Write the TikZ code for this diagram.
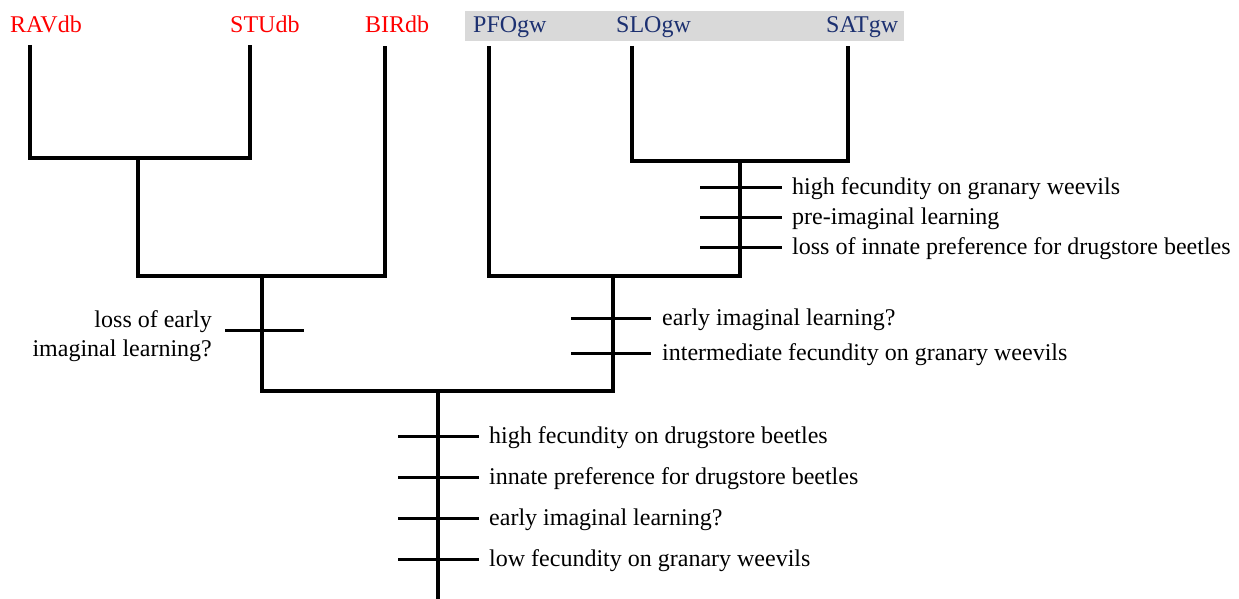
\documentclass[tikz,border=0pt]{standalone}
\usepackage{fontspec}
\setmainfont{Liberation Serif}
\definecolor{navy}{RGB}{28,48,112}
\definecolor{bandgray}{RGB}{217,217,217}
\definecolor{leafred}{RGB}{255,0,0}
\begin{document}
\begin{tikzpicture}[x=1pt,y=-1pt,
  branch/.style={line width=4pt, line join=miter},
  tickmark/.style={line width=3pt},
  lab/.style={font=\fontsize{24}{29}\selectfont, inner sep=0pt, anchor=base west},
  redleaf/.style={lab, text=leafred},
  blueleaf/.style={lab, text=navy}]
\useasboundingbox (0,0) rectangle (1239,599);
% grey band behind the gw taxa
\fill[bandgray] (465,11) rectangle (904,41);
% leaf labels
\node[redleaf] (rav) at (10,33) {RAVdb};
\node[redleaf] (stu) at (230,33) {STUdb};
\node[redleaf] (bir) at (365,33) {BIRdb};
\node[blueleaf] (pfo) at (473,33) {PFOgw};
\node[blueleaf] (slo) at (616,33) {SLOgw};
\node[blueleaf] (sat) at (826,33) {SATgw};
% leaf tops
\coordinate (ravtop) at (30,45);
\coordinate (stutop) at (250,45);
\coordinate (birtop) at (385,46);
\coordinate (pfotop) at (489,46);
\coordinate (slotop) at (632,46);
\coordinate (sattop) at (848,46);
% internal nodes
\coordinate (n1) at (138,158);
\coordinate (n2) at (262,276);
\coordinate (s1) at (740,161);
\coordinate (s2) at (613,276);
\coordinate (r) at (438,391);
\coordinate (rootend) at (438,602);
% branches
\draw[branch] (ravtop) |- (n1) -| (stutop);
\draw[branch] (n1) |- (n2) -| (birtop);
\draw[branch] (slotop) |- (s1) -| (sattop);
\draw[branch] (s1) |- (s2) -| (pfotop);
\draw[branch] (n2) |- (r) -| (s2);
\draw[branch] (r) -- (rootend);
% ticks on SLO/SAT branch
\foreach \y/\nm/\t in {187/a1/{high fecundity on granary weevils},217/a2/{pre-imaginal learning},247/a3/{loss of innate preference for drugstore beetles}}{
  \coordinate (\nm l) at (700,\y);
  \coordinate (\nm r) at (782,\y);
  \draw[tickmark] (\nm l) -- (\nm r);
  \node[lab] (\nm) at (792,\y+7) {\t};
}
% ticks on gw branch
\foreach \y/\nm/\t in {318/b1/{early imaginal learning?},353/b2/{intermediate fecundity on granary weevils}}{
  \coordinate (\nm l) at (571,\y);
  \coordinate (\nm r) at (651,\y);
  \draw[tickmark] (\nm l) -- (\nm r);
  \node[lab] (\nm) at (662,\y+7) {\t};
}
% tick on db branch
\coordinate (c1l) at (225,330);
\coordinate (c1r) at (304,330);
\draw[tickmark] (c1l) -- (c1r);
\node[font=\fontsize{24}{29}\selectfont, inner sep=0pt, align=right, anchor=east] (c1) at (212,336) {loss of early\\imaginal learning?};
% ticks on root
\foreach \y/\nm/\t in {436/d1/{high fecundity on drugstore beetles},477/d2/{innate preference for drugstore beetles},518/d3/{early imaginal learning?},559/d4/{low fecundity on granary weevils}}{
  \coordinate (\nm l) at (398,\y);
  \coordinate (\nm r) at (479,\y);
  \draw[tickmark] (\nm l) -- (\nm r);
  \node[lab] (\nm) at (489,\y+7) {\t};
}
\end{tikzpicture}
\end{document}
